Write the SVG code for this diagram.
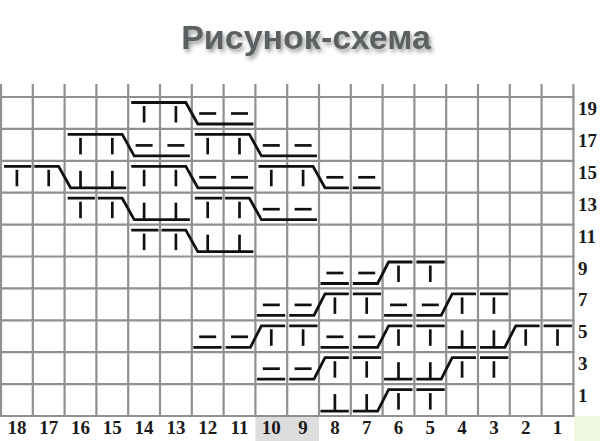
<svg xmlns="http://www.w3.org/2000/svg" width="600" height="441" viewBox="0 0 600 441">
<defs>
<style>
.grid{fill:none;stroke:#909090;stroke-width:2.2}
.run{fill:none;stroke:#111;stroke-width:2.8;stroke-linejoin:miter}
.mk{stroke:#111;stroke-width:2.7;fill:none}
.rl{font-family:"Liberation Serif",serif;font-weight:bold;font-size:19px;fill:#1a1a1a}
.cl{font-family:"Liberation Serif",serif;font-weight:bold;font-size:19px;fill:#1a1a1a;text-anchor:middle}
.title{font-family:"Liberation Sans",Arial,sans-serif;font-weight:bold;font-size:34px;fill:#5b6162;text-anchor:middle}
</style>
<filter id="sh" x="-10%" y="-40%" width="130%" height="190%">
<feGaussianBlur in="SourceAlpha" stdDeviation="2"/>
<feOffset dx="2" dy="3"/>
<feComponentTransfer><feFuncA type="linear" slope="0.4"/></feComponentTransfer>
<feMerge><feMergeNode/><feMergeNode in="SourceGraphic"/></feMerge>
</filter>
<line id="K" class="mk" x1="15.9" y1="9" x2="15.9" y2="25.5"/>
<line id="U" class="mk" x1="15.9" y1="10" x2="15.9" y2="27"/>
<line id="P" class="mk" x1="7.4" y1="16.5" x2="24.4" y2="16.5"/>
</defs>
<rect width="600" height="441" fill="#ffffff"/>
<text class="title" x="306" y="49" filter="url(#sh)">Рисунок-схема</text>

<g id="label-bg">
<rect x="255.4" y="416" width="63.6" height="25" fill="#dddddd"/>
<rect x="574.5" y="416" width="25.5" height="25" fill="#eef7e0"/>
</g>

<g id="grid">
<path class="grid" d="M1 84V416M32.8 84V416M64.6 84V416M96.4 84V416M128.2 84V416M160 84V416M191.8 84V416M223.6 84V416M255.4 84V416M287.2 84V416M319 84V416M350.8 84V416M382.6 84V416M414.4 84V416M446.2 84V416M478 84V416M509.8 84V416M541.6 84V416M573.4 84V416"/>
<path class="grid" d="M0 97H574.5M0 128.9H574.5M0 160.8H574.5M0 192.7H574.5M0 224.6H574.5M0 256.5H574.5M0 288.4H574.5M0 320.3H574.5M0 352.2H574.5M0 384.1H574.5M0 416H574.5"/>
</g>

<g id="connectors">
<!-- row 19 -->
<path class="run" d="M131.2 102.5H185.8L197.8 124H253.4"/>
<!-- row 17 -->
<path class="run" d="M67.6 134.4H122.2L134.2 155.9H189.8"/>
<path class="run" d="M194.8 134.4H249.4L261.4 155.9H317"/>
<!-- row 15 -->
<path class="run" d="M4 166.3H31.3M34.3 166.3H58.6L70.6 187.8H126.2"/>
<path class="run" d="M131.2 166.3H185.8L197.8 187.8H253.4"/>
<path class="run" d="M258.4 166.3H313L325 187.8H348.8M352.8 187.8H380.6"/>
<!-- row 13 -->
<path class="run" d="M67.6 198.2H94.9M97.9 198.2H122.2L134.2 219.7H189.8"/>
<path class="run" d="M194.8 198.2H222.1M225.1 198.2H249.4L261.4 219.7H317"/>
<!-- row 11 -->
<path class="run" d="M131.2 230.1H158.5M161.5 230.1H185.8L197.8 251.6H253.4"/>
<!-- row 9 -->
<path class="run" d="M320.5 283.5H348.8M352.8 283.5H377.6L388.6 262H412.4M416.4 262H444.7"/>
<!-- row 7 -->
<path class="run" d="M256.9 315.4H285.2M289.2 315.4H314L325 293.9H348.8M352.8 293.9H381.1"/>
<path class="run" d="M384.1 315.4H412.4M416.4 315.4H441.2L452.2 293.9H476M480 293.9H508.3"/>
<!-- row 5 -->
<path class="run" d="M193.3 347.3H221.6M225.6 347.3H250.4L261.4 325.8H285.2M289.2 325.8H317.5"/>
<path class="run" d="M320.5 347.3H348.8M352.8 347.3H377.6L388.6 325.8H412.4M416.4 325.8H444.7"/>
<path class="run" d="M447.7 347.3H476M480 347.3H504.8L515.8 325.8H539.6M543.6 325.8H571.9"/>
<!-- row 3 -->
<path class="run" d="M256.9 379.2H285.2M289.2 379.2H314L325 357.7H348.8M352.8 357.7H381.1"/>
<path class="run" d="M384.1 379.2H412.4M416.4 379.2H441.2L452.2 357.7H476M480 357.7H508.3"/>
<!-- row 1 -->
<path class="run" d="M320.5 411.1H348.8M352.8 411.1H377.6L388.6 389.6H412.4M416.4 389.6H444.7"/>
</g>

<g id="row19">
<use href="#K" x="128.2" y="97"/><use href="#K" x="160" y="97"/>
<use href="#P" x="191.8" y="97"/><use href="#P" x="223.6" y="97"/>
</g>
<g id="row17">
<use href="#K" x="64.6" y="128.9"/><use href="#K" x="96.4" y="128.9"/>
<use href="#P" x="128.2" y="128.9"/><use href="#P" x="160" y="128.9"/>
<use href="#K" x="191.8" y="128.9"/><use href="#K" x="223.6" y="128.9"/>
<use href="#P" x="255.4" y="128.9"/><use href="#P" x="287.2" y="128.9"/>
</g>
<g id="row15">
<use href="#K" x="1" y="160.8"/><use href="#K" x="32.8" y="160.8"/>
<use href="#U" x="64.6" y="160.8"/><use href="#U" x="96.4" y="160.8"/>
<use href="#K" x="128.2" y="160.8"/><use href="#K" x="160" y="160.8"/>
<use href="#P" x="191.8" y="160.8"/><use href="#P" x="223.6" y="160.8"/>
<use href="#K" x="255.4" y="160.8"/><use href="#K" x="287.2" y="160.8"/>
<use href="#P" x="319" y="160.8"/><use href="#P" x="350.8" y="160.8"/>
</g>
<g id="row13">
<use href="#K" x="64.6" y="192.7"/><use href="#K" x="96.4" y="192.7"/>
<use href="#U" x="128.2" y="192.7"/><use href="#U" x="160" y="192.7"/>
<use href="#K" x="191.8" y="192.7"/><use href="#K" x="223.6" y="192.7"/>
<use href="#P" x="255.4" y="192.7"/><use href="#P" x="287.2" y="192.7"/>
</g>
<g id="row11">
<use href="#K" x="128.2" y="224.6"/><use href="#K" x="160" y="224.6"/>
<use href="#U" x="191.8" y="224.6"/><use href="#U" x="223.6" y="224.6"/>
</g>
<g id="row9">
<use href="#P" x="319" y="256.5"/><use href="#P" x="350.8" y="256.5"/>
<use href="#K" x="382.6" y="256.5"/><use href="#K" x="414.4" y="256.5"/>
</g>
<g id="row7">
<use href="#P" x="255.4" y="288.4"/><use href="#P" x="287.2" y="288.4"/>
<use href="#K" x="319" y="288.4"/><use href="#K" x="350.8" y="288.4"/>
<use href="#P" x="382.6" y="288.4"/><use href="#P" x="414.4" y="288.4"/>
<use href="#K" x="446.2" y="288.4"/><use href="#K" x="478" y="288.4"/>
</g>
<g id="row5">
<use href="#P" x="191.8" y="320.3"/><use href="#P" x="223.6" y="320.3"/>
<use href="#K" x="255.4" y="320.3"/><use href="#K" x="287.2" y="320.3"/>
<use href="#P" x="319" y="320.3"/><use href="#P" x="350.8" y="320.3"/>
<use href="#K" x="382.6" y="320.3"/><use href="#K" x="414.4" y="320.3"/>
<use href="#U" x="446.2" y="320.3"/><use href="#U" x="478" y="320.3"/>
<use href="#K" x="509.8" y="320.3"/><use href="#K" x="541.6" y="320.3"/>
</g>
<g id="row3">
<use href="#P" x="255.4" y="352.2"/><use href="#P" x="287.2" y="352.2"/>
<use href="#K" x="319" y="352.2"/><use href="#K" x="350.8" y="352.2"/>
<use href="#U" x="382.6" y="352.2"/><use href="#U" x="414.4" y="352.2"/>
<use href="#K" x="446.2" y="352.2"/><use href="#K" x="478" y="352.2"/>
</g>
<g id="row1">
<use href="#U" x="319" y="384.1"/><use href="#U" x="350.8" y="384.1"/>
<use href="#K" x="382.6" y="384.1"/><use href="#K" x="414.4" y="384.1"/>
</g>

<g id="row-labels">
<text class="rl" x="578" y="115">19</text>
<text class="rl" x="578" y="146.9">17</text>
<text class="rl" x="578" y="178.8">15</text>
<text class="rl" x="578" y="210.7">13</text>
<text class="rl" x="578" y="242.6">11</text>
<text class="rl" x="578" y="274.5">9</text>
<text class="rl" x="578" y="306.4">7</text>
<text class="rl" x="578" y="338.3">5</text>
<text class="rl" x="578" y="370.2">3</text>
<text class="rl" x="578" y="402.1">1</text>
</g>
<g id="column-labels">
<text class="cl" x="16.9" y="434">18</text>
<text class="cl" x="48.7" y="434">17</text>
<text class="cl" x="80.5" y="434">16</text>
<text class="cl" x="112.3" y="434">15</text>
<text class="cl" x="144.1" y="434">14</text>
<text class="cl" x="175.9" y="434">13</text>
<text class="cl" x="207.7" y="434">12</text>
<text class="cl" x="239.5" y="434">11</text>
<text class="cl" x="271.3" y="434">10</text>
<text class="cl" x="303.1" y="434">9</text>
<text class="cl" x="334.9" y="434">8</text>
<text class="cl" x="366.7" y="434">7</text>
<text class="cl" x="398.5" y="434">6</text>
<text class="cl" x="430.3" y="434">5</text>
<text class="cl" x="462.1" y="434">4</text>
<text class="cl" x="493.9" y="434">3</text>
<text class="cl" x="525.7" y="434">2</text>
<text class="cl" x="557.5" y="434">1</text>
</g>
</svg>
